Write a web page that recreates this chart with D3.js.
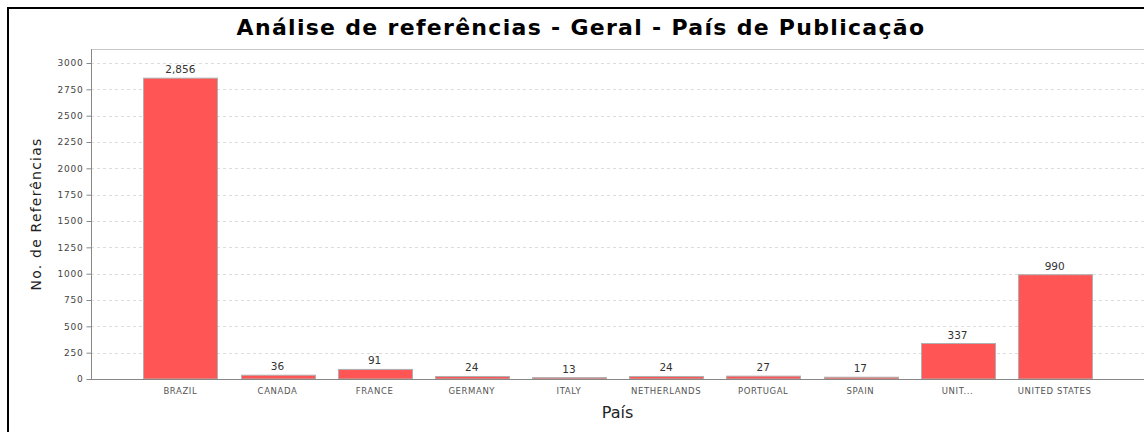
<!DOCTYPE html>
<html>
<head>
<meta charset="utf-8">
<script src="https://cdn.jsdelivr.net/npm/d3@7"></script>
<style>
  body { margin: 0; background: #fff; }
  svg { display: block; }
</style>
</head>
<body>
<svg id="chart" width="1144" height="432"></svg>
<script>
// valores
const paises = ["BRAZIL", "CANADA", "FRANCE", "GERMANY", "ITALY", "NETHERLANDS", "PORTUGAL", "SPAIN", "UNIT...", "UNITED STATES"];
const referencias = [2856, 36, 91, 24, 13, 24, 27, 17, 337, 990];
const yTicks = [0, 250, 500, 750, 1000, 1250, 1500, 1750, 2000, 2250, 2500, 2750, 3000];

const svg = d3.select("#chart");
const W = 1144, H = 432;

// área do plot (a borda direita fica fora da imagem, como no original)
const plotLeft = 91, plotTop = 49, plotBottom = 379, plotW = 1053;

svg.append("rect").attr("width", W).attr("height", H).attr("fill", "#fff");

// moldura externa (só esquerda e topo visíveis)
svg.append("path")
    .attr("d", `M8,${H} L8,8 L${W},8`)
    .attr("fill", "none")
    .attr("stroke", "#000")
    .attr("stroke-width", 2);

const y = d3.scaleLinear().domain([0, 3133]).range([plotBottom, plotTop]);
const x = d3.scaleBand()
    .domain(paises)
    .range([plotLeft, plotLeft + plotW])
    .paddingInner(0.241)
    .paddingOuter(0.54);

// grade
svg.append("g")
    .selectAll("line")
    .data(yTicks)
    .join("line")
    .attr("x1", plotLeft).attr("x2", W)
    .attr("y1", d => Math.round(y(d)) + 0.5)
    .attr("y2", d => Math.round(y(d)) + 0.5)
    .attr("stroke", "#dcdcdc")
    .attr("stroke-dasharray", "3,3");

// borda superior do plot
svg.append("line")
    .attr("x1", plotLeft).attr("x2", W)
    .attr("y1", plotTop + 0.5).attr("y2", plotTop + 0.5)
    .attr("stroke", "#c8c8c8");

// barras
svg.append("g")
    .selectAll("rect")
    .data(referencias)
    .join("rect")
    .attr("x", (d, i) => Math.round(x(paises[i])) + 0.5)
    .attr("y", d => y(d))
    .attr("width", Math.round(x.bandwidth()))
    .attr("height", d => plotBottom - y(d))
    .attr("fill", "#ff5555")
    .attr("stroke", "#b0b0b0")
    .attr("stroke-width", 1);

// rótulos de valor
svg.append("g")
    .selectAll("text")
    .data(referencias)
    .join("text")
    .attr("x", (d, i) => x(paises[i]) + x.bandwidth() / 2)
    .attr("y", d => y(d) - 5)
    .attr("text-anchor", "middle")
    .style("font-family", "DejaVu Sans, sans-serif")
    .style("font-size", "10.5px")
    .style("fill", "#333")
    .text(d => d3.format(",")(d));

// eixo Y
const yAxis = svg.append("g")
    .attr("transform", `translate(${plotLeft + 0.5},0)`)
    .call(d3.axisLeft(y).tickValues(yTicks).tickFormat(d3.format("d")).tickSize(5).tickPadding(3));
yAxis.select(".domain").attr("stroke", "#888").attr("d", `M0,${plotTop}V${plotBottom}`);
yAxis.selectAll(".tick line").attr("stroke", "#888");
yAxis.selectAll(".tick text")
    .style("font-family", "DejaVu Sans, sans-serif")
    .style("font-size", "9px")
    .style("letter-spacing", "0.8px")
    .style("fill", "#444");

// eixo X
const xAxis = svg.append("g")
    .attr("transform", `translate(0,${plotBottom + 0.5})`)
    .call(d3.axisBottom(x).tickSize(0).tickPadding(8));
xAxis.select(".domain").attr("stroke", "#888").attr("d", `M${plotLeft},0H${W}`);
xAxis.selectAll(".tick text")
    .style("font-family", "DejaVu Sans, sans-serif")
    .style("font-size", "8.5px")
    .style("letter-spacing", "0.6px")
    .style("fill", "#555");

// títulos
svg.append("text")
    .attr("x", 581).attr("y", 35)
    .attr("text-anchor", "middle")
    .style("font-family", "DejaVu Sans, sans-serif")
    .style("font-weight", "bold")
    .style("font-size", "22px")
    .style("letter-spacing", "1.3px")
    .style("fill", "#000")
    .text("Análise de referências - Geral - País de Publicação");

svg.append("text")
    .attr("x", plotLeft + plotW / 2).attr("y", 418)
    .attr("text-anchor", "middle")
    .style("font-family", "DejaVu Sans, sans-serif")
    .style("font-size", "16px")
    .style("fill", "#222")
    .text("País");

svg.append("text")
    .attr("transform", `translate(41,${(plotTop + plotBottom) / 2}) rotate(-90)`)
    .attr("text-anchor", "middle")
    .style("font-family", "DejaVu Sans, sans-serif")
    .style("font-size", "14px")
    .style("letter-spacing", "1.2px")
    .style("fill", "#222")
    .text("No. de Referências");
</script>
</body>
</html>
